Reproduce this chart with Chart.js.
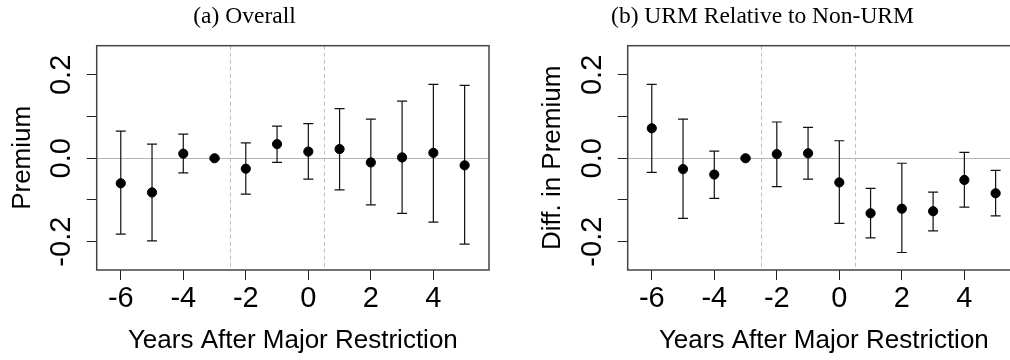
<!DOCTYPE html>
<html>
<head>
<meta charset="utf-8">
<script src="https://cdn.jsdelivr.net/npm/chart.js@4.4.1/dist/chart.umd.min.js"></script>
<style>
  body { margin: 0; background: #fff; }
  #wrap { position: relative; width: 1010px; height: 360px; overflow: hidden; }
  .panel { position: absolute; top: 0; height: 360px; }
</style>
</head>
<body>
<div id="wrap">
  <div class="panel" style="left:0;width:505px"><canvas id="chartA" width="505" height="360"></canvas></div>
  <div class="panel" style="left:505px;width:553px"><canvas id="chartB" width="553" height="360"></canvas></div>
</div>
<script>
// Event-study estimates, years relative to major restriction
const years = [-6, -5, -4, -3, -2, -1, 0, 1, 2, 3, 4, 5];

// (a) Overall
const overallEst = [-0.060, -0.082, 0.011, 0.000, -0.025, 0.034, 0.016, 0.022, -0.010, 0.002, 0.013, -0.017];
const overallLo  = [-0.182, -0.198, -0.035, -0.002, -0.086, -0.010, -0.050, -0.076, -0.112, -0.132, -0.153, -0.206];
const overallHi  = [0.065, 0.034, 0.058, 0.002, 0.037, 0.077, 0.083, 0.119, 0.094, 0.137, 0.177, 0.175];

// (b) URM relative to non-URM
const urmEst = [0.072, -0.026, -0.039, 0.000, 0.010, 0.012, -0.058, -0.132, -0.121, -0.127, -0.052, -0.084];
const urmLo  = [-0.034, -0.144, -0.096, -0.002, -0.068, -0.050, -0.156, -0.191, -0.226, -0.174, -0.117, -0.138];
const urmHi  = [0.177, 0.094, 0.017, 0.002, 0.087, 0.074, 0.042, -0.072, -0.012, -0.081, 0.014, -0.029];

// axes
const xTicks = [-6, -4, -2, 0, 2, 4];
const yTicks = [-0.2, -0.1, 0, 0.1, 0.2];
const yTickLabels = [-0.2, 0, 0.2];
const periodBreaks = [-2.5, 0.5];
const zeroLine = 0;

const SANS = "'Liberation Sans', Arial, sans-serif";
const SERIF = "'Liberation Serif', 'Times New Roman', serif";

// error bars, reference lines, box, rotated y labels
const panelMarks = {
    id: 'panelMarks',
    beforeDatasetsDraw(chart, args, opts) {
        const ctx = chart.ctx;
        const a = chart.chartArea;
        const x = chart.scales.x, y = chart.scales.y;
        ctx.save();
        ctx.lineWidth = 1;
        ctx.strokeStyle = '#b5b5b5';
        const y0 = Math.round(y.getPixelForValue(zeroLine)) + 0.5;
        ctx.beginPath();
        ctx.moveTo(a.left, y0);
        ctx.lineTo(a.right, y0);
        ctx.stroke();

        ctx.setLineDash([4, 3]);
        ctx.strokeStyle = '#bdbdbd';
        periodBreaks.forEach(v => {
            const px = Math.round(x.getPixelForValue(v)) + 0.5;
            ctx.beginPath();
            ctx.moveTo(px, a.top);
            ctx.lineTo(px, a.bottom);
            ctx.stroke();
        });
        ctx.setLineDash([]);

        // error bars
        ctx.strokeStyle = '#111';
        ctx.lineWidth = 1.2;
        years.forEach((yr, i) => {
            const px = x.getPixelForValue(yr);
            const pLo = y.getPixelForValue(opts.lo[i]);
            const pHi = y.getPixelForValue(opts.hi[i]);
            ctx.beginPath();
            ctx.moveTo(px, pLo);
            ctx.lineTo(px, pHi);
            ctx.moveTo(px - 5, pLo);
            ctx.lineTo(px + 5, pLo);
            ctx.moveTo(px - 5, pHi);
            ctx.lineTo(px + 5, pHi);
            ctx.stroke();
        });
        ctx.restore();
    },
    afterDraw(chart) {
        const ctx = chart.ctx;
        const a = chart.chartArea;
        const y = chart.scales.y;
        ctx.save();
        ctx.strokeStyle = '#444';
        ctx.lineWidth = 1.5;
        ctx.strokeRect(a.left, a.top, a.right - a.left, a.bottom - a.top);

        ctx.fillStyle = '#000';
        ctx.font = '29px ' + SANS;
        ctx.textAlign = 'center';
        ctx.textBaseline = 'middle';
        yTickLabels.forEach(v => {
            ctx.save();
            ctx.translate(a.left - 35, y.getPixelForValue(v));
            ctx.rotate(-Math.PI / 2);
            ctx.fillText(v.toFixed(1), 0, 0);
            ctx.restore();
        });
        ctx.restore();
    }
};

function makePanel(canvasId, title, yTitle, est, lo, hi, yAxisWidth, rightPad, yTitlePad) {
    const points = years.map((yr, i) => ({ x: yr, y: est[i] }));
    return new Chart(document.getElementById(canvasId), {
        type: 'scatter',
        data: {
            datasets: [{
                data: points,
                backgroundColor: '#000',
                borderColor: '#000',
                pointRadius: 4.6,
                pointHoverRadius: 4.6
            }]
        },
        options: {
            responsive: false,
            animation: false,
            events: [],
            layout: { padding: { left: 0, right: rightPad, top: 0, bottom: 0 } },
            plugins: {
                legend: { display: false },
                tooltip: { enabled: false },
                title: {
                    display: true,
                    text: title,
                    color: '#000',
                    font: { family: SERIF, size: 23.5, weight: 'normal' },
                    padding: { top: 2.4, bottom: 15.1 }
                },
                panelMarks: { lo: lo, hi: hi }
            },
            scales: {
                x: {
                    type: 'linear',
                    min: -6.77,
                    max: 5.78,
                    afterBuildTicks: s => { s.ticks = xTicks.map(v => ({ value: v })); },
                    afterFit: s => { s.height = 90; },
                    grid: { drawOnChartArea: false, drawTicks: true, tickLength: 10, tickColor: '#222', lineWidth: 1 },
                    border: { display: false },
                    ticks: {
                        color: '#000',
                        padding: 2,
                        maxRotation: 0,
                        font: { family: SANS, size: 29 },
                        callback: v => String(v)
                    },
                    title: {
                        display: true,
                        text: 'Years After Major Restriction',
                        color: '#000',
                        font: { family: SANS, size: 26 },
                        padding: { top: 0, bottom: 4 }
                    }
                },
                y: {
                    type: 'linear',
                    min: -0.268,
                    max: 0.27,
                    afterBuildTicks: s => { s.ticks = yTicks.map(v => ({ value: v })); },
                    afterFit: s => { s.width = yAxisWidth; },
                    grid: { drawOnChartArea: false, drawTicks: true, tickLength: 10, tickColor: '#222', lineWidth: 1 },
                    border: { display: false },
                    ticks: { display: false },
                    title: {
                        display: true,
                        text: yTitle,
                        color: '#000',
                        font: { family: SANS, size: 26 },
                        padding: { top: yTitlePad, bottom: 0 }
                    }
                }
            }
        },
        plugins: [panelMarks]
    });
}

makePanel('chartA', '(a) Overall', 'Premium', overallEst, overallLo, overallHi, 96.7, 16, 7.6);
makePanel('chartB', '(b) URM Relative to Non-URM', 'Diff. in Premium', urmEst, urmLo, urmHi, 122.7, 38, 32.6);
</script>
</body>
</html>
